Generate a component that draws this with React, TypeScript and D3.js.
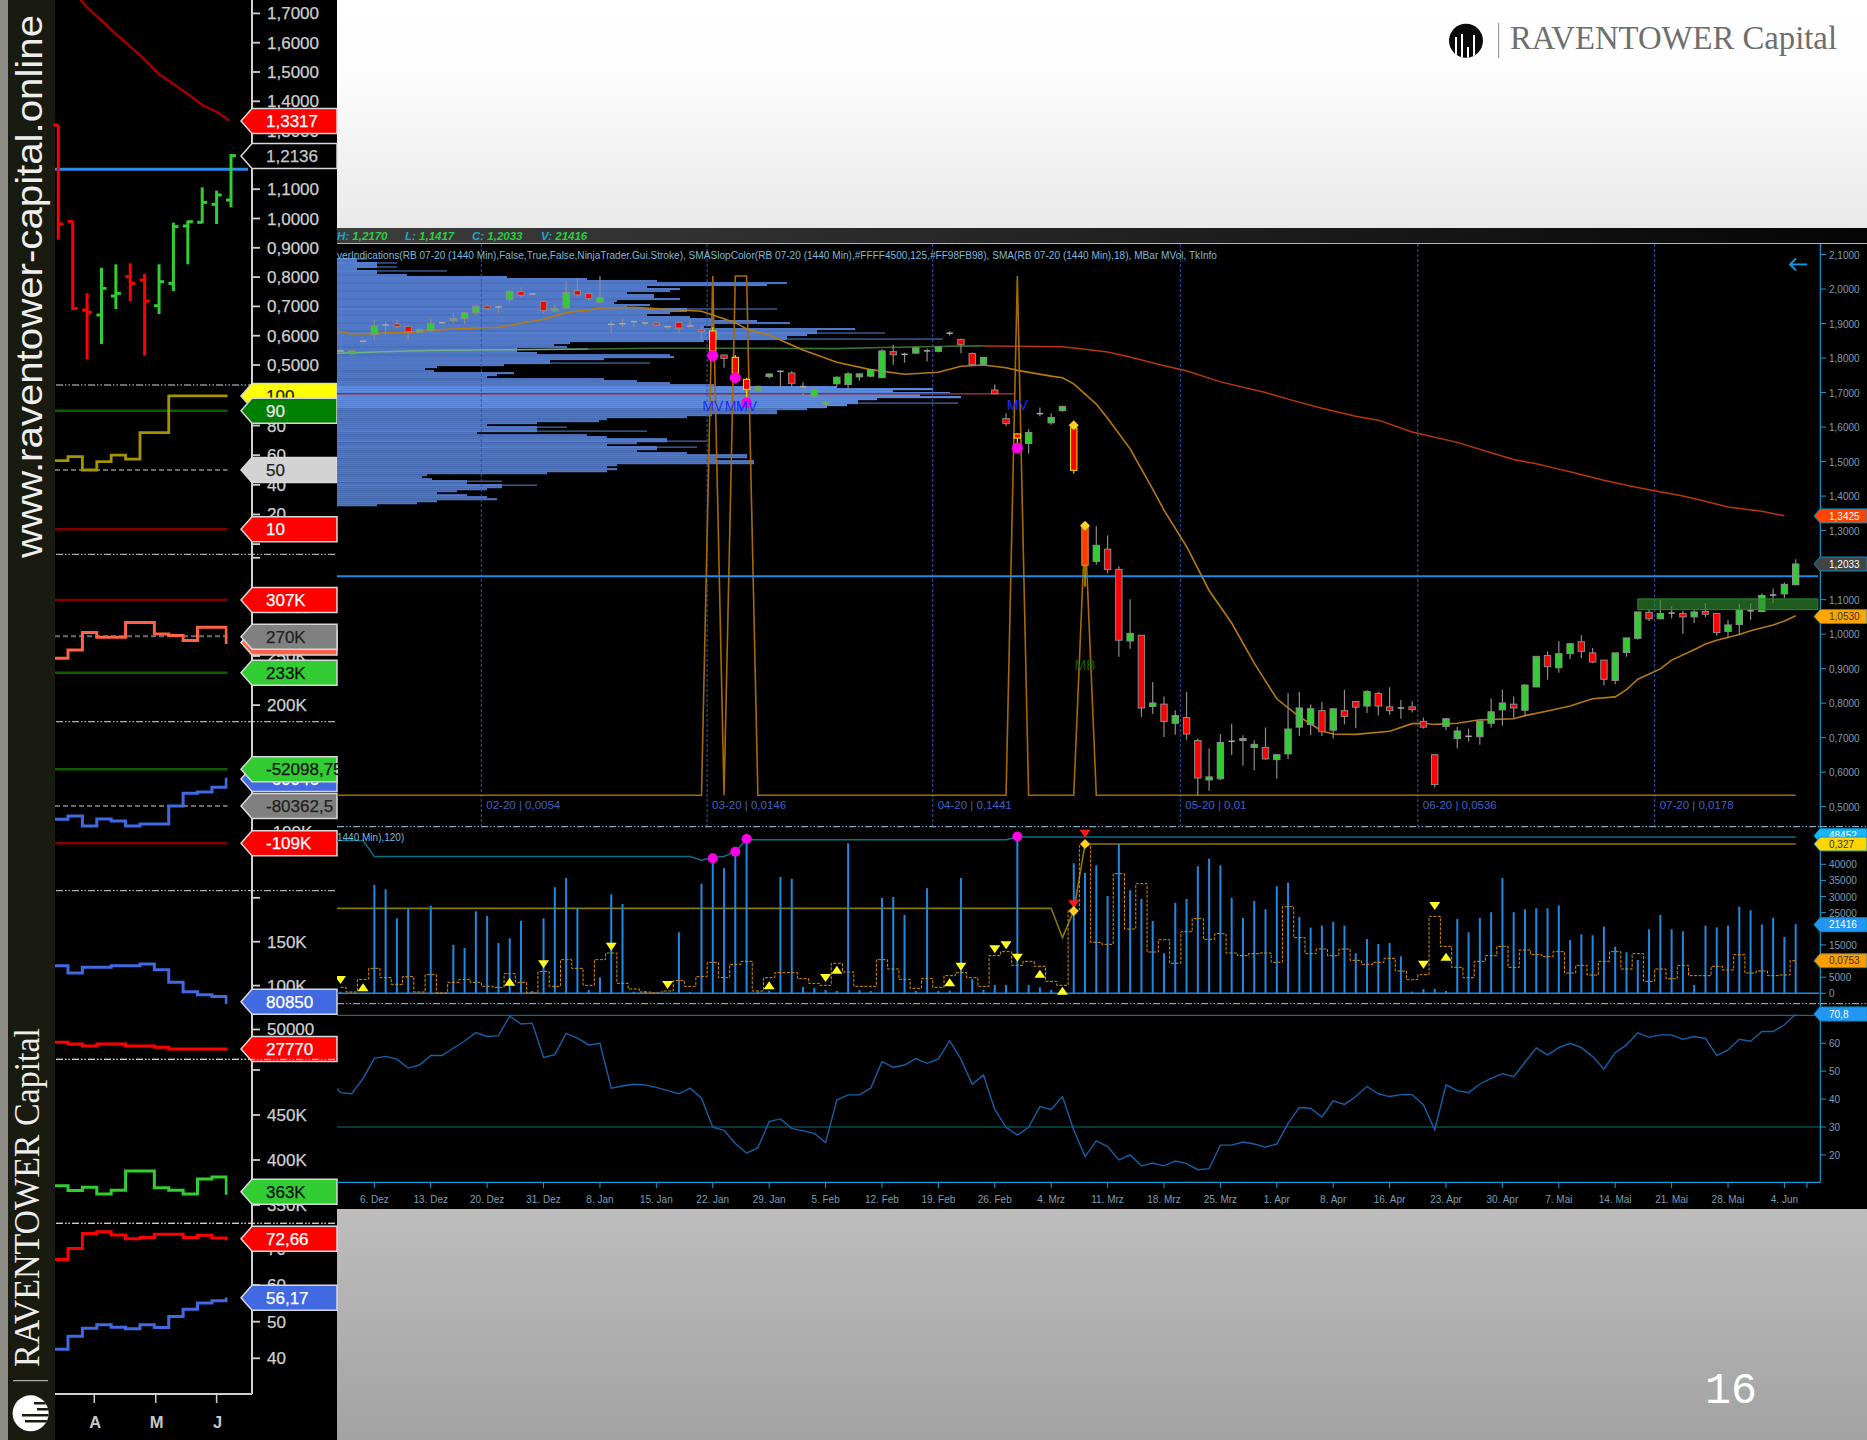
import React from "react";
import * as d3 from "d3";

// ---------- main daily chart data ----------
const opens = [1.8204,1.8127,1.8485,1.8687,1.8958,1.8987,1.8919,1.8745,1.8803,1.9026,1.9084,1.9142,1.9315,1.9509,1.948,1.9702,1.9924,1.9856,1.9644,1.9364,1.9451,1.9953,1.9866,1.9615,1.8977,1.8997,1.9055,1.9016,1.9016,1.891,1.9035,1.8929,1.8813,1.8784,1.8089,1.8021,1.7383,1.7065,1.7461,1.7615,1.7567,1.7171,1.6881,1.6659,1.7254,1.7232,1.7453,1.7475,1.7431,1.8185,1.8107,1.8141,1.8207,1.8196,1.8718,1.854,1.813,1.7819,1.7076,1.6244,1.5801,1.5524,1.6389,1.6122,1.6477,1.5978,1.3095,1.2108,1.2463,1.1875,0.9801,0.9967,0.7905,0.7971,0.7417,0.7583,0.6918,0.5775,0.5809,0.6896,0.6918,0.6718,0.6718,0.6363,0.653,0.7306,0.7383,0.7783,0.7217,0.7783,0.8049,0.7916,0.8282,0.7894,0.786,0.7894,0.7472,0.6507,0.7328,0.6973,0.704,0.7029,0.7417,0.7805,0.7971,0.7794,0.847,0.938,0.9025,0.9435,0.9779,0.9457,0.9247,0.8659,0.9468,0.9879,1.0633,1.0444,1.0611,1.06,1.05,1.0655,1.06,1.0078,1.0278,1.0677,1.0655,1.1132,1.1165,1.1431];
const highs = [1.8262,1.8214,1.8504,1.9103,1.9055,1.9103,1.8919,1.8842,1.918,1.9045,1.9296,1.9325,1.9538,1.9567,1.9509,1.9963,2.005,1.9876,1.9673,1.9538,2.0214,2.031,1.9895,2.0378,1.9055,1.9151,1.9074,1.9045,1.9026,1.8929,1.9084,1.9103,1.891,1.891,1.8089,1.8089,1.7432,1.7181,1.7557,1.7634,1.7625,1.7296,1.7123,1.6785,1.7475,1.7586,1.7542,1.7686,1.8252,1.8385,1.8152,1.8318,1.8274,1.8352,1.8773,1.8562,1.8163,1.803,1.7232,1.64,1.5823,1.5945,1.6566,1.64,1.6621,1.6056,1.3139,1.3128,1.2862,1.1964,1.101,0.9967,0.8614,0.8193,0.7794,0.8326,0.6973,0.6685,0.7106,0.7406,0.7073,0.6929,0.7295,0.6507,0.8293,0.8326,0.796,0.8038,0.7838,0.8393,0.8049,0.8371,0.8326,0.8459,0.8093,0.8049,0.7583,0.6507,0.755,0.7306,0.7262,0.7483,0.8138,0.8393,0.8193,0.8548,0.9357,0.9502,0.9801,0.9746,0.9967,0.9601,0.9247,0.9457,0.989,1.0644,1.0711,1.0988,1.081,1.0677,1.0711,1.0899,1.06,1.0411,1.0877,1.0899,1.1187,1.132,1.1498,1.217];
const lows = [1.8137,1.8089,1.8465,1.8523,1.8668,1.8861,1.8523,1.8726,1.8745,1.8987,1.9006,1.8987,1.9248,1.9393,1.9306,1.9634,1.9769,1.9827,1.9296,1.9335,1.9412,1.9779,1.9673,1.9596,1.8697,1.889,1.891,1.8948,1.8939,1.8842,1.8736,1.891,1.8504,1.8137,1.7722,1.7412,1.6785,1.7045,1.7412,1.7123,1.7171,1.691,1.6852,1.6591,1.7176,1.7065,1.7342,1.7442,1.742,1.7808,1.7864,1.8119,1.7897,1.8163,1.8651,1.8141,1.7786,1.7797,1.6943,1.6034,1.5479,1.5224,1.6311,1.6067,1.6444,1.4647,1.1376,1.2008,1.1764,0.9346,0.9579,0.7605,0.7683,0.7018,0.7084,0.694,0.5332,0.5465,0.5775,0.6496,0.6186,0.6053,0.6363,0.5809,0.6385,0.7051,0.7073,0.7051,0.6973,0.7384,0.7273,0.7716,0.7639,0.7661,0.755,0.7727,0.7262,0.5554,0.7217,0.6685,0.6885,0.6796,0.7295,0.735,0.755,0.7605,0.847,0.8681,0.8881,0.9269,0.9302,0.9158,0.8515,0.8548,0.9347,0.9846,1.0378,1.0433,1.0455,1.0012,1.0322,1.0489,0.9956,0.9879,0.999,1.0411,1.0655,1.0899,1.1043,1.1417];
const closes = [1.8204,1.8214,1.8485,1.8929,1.8958,1.891,1.8765,1.8823,1.9006,1.9026,1.9151,1.9315,1.9489,1.9431,1.948,1.9934,1.9818,1.9856,1.9373,1.9441,1.9895,1.9827,1.9721,1.975,1.8977,1.8997,1.9055,1.9016,1.8958,1.891,1.8871,1.8929,1.8765,1.8204,1.7992,1.7557,1.7094,1.7181,1.7538,1.7615,1.7267,1.7171,1.7094,1.6736,1.7442,1.7542,1.7542,1.7664,1.8207,1.8096,1.8107,1.8296,1.8207,1.8318,1.8718,1.8385,1.7808,1.8019,1.6965,1.61,1.5679,1.5845,1.6389,1.6278,1.6599,1.4747,1.1997,1.2574,1.1875,0.9823,1.0023,0.7861,0.8005,0.7472,0.7639,0.7106,0.5831,0.5864,0.6862,0.6896,0.6973,0.6807,0.6385,0.6507,0.725,0.7861,0.7838,0.7173,0.7838,0.7616,0.7883,0.8337,0.7916,0.7783,0.786,0.7816,0.7306,0.5643,0.755,0.7195,0.704,0.7483,0.7749,0.8005,0.786,0.8526,0.9357,0.9058,0.9435,0.9723,0.9502,0.9191,0.8692,0.9457,0.989,1.0644,1.0444,1.06,1.0611,1.05,1.0644,1.0577,1.0045,1.0267,1.0711,1.0677,1.1121,1.1132,1.1443,1.2033];

const smaIdx = [-0.3,1,3,6,9,12,14,16,18,20,22,23,26,29,32,33,35,36,38,41,44,47,50,53,55,57,59,60,63,64,65,67,68,70,72,73,75,77,79,81,83,85,87,88,90,93,95,96,97,99,101,104,105,107,109,111,113,114,115,117,118,120,121,122,124,125,127,128,129];
const smaVal = [1.8784,1.8697,1.8716,1.8745,1.8823,1.8871,1.889,1.9006,1.9122,1.9315,1.9393,1.9451,1.947,1.9412,1.9354,1.9248,1.9026,1.8842,1.8668,1.8233,1.7876,1.7664,1.7531,1.7586,1.7764,1.7797,1.7719,1.7642,1.7475,1.7431,1.7254,1.6666,1.6256,1.5368,1.4204,1.3594,1.254,1.1265,1.0322,0.9158,0.8127,0.7605,0.7195,0.7106,0.7095,0.7184,0.7406,0.7417,0.7384,0.7417,0.7517,0.755,0.7639,0.7772,0.7916,0.8127,0.8182,0.8393,0.8692,0.8992,0.9247,0.9546,0.9712,0.9823,0.999,1.01,1.0267,1.0378,1.053];

const slopeIdxA = [-0.3,6,9,15,22];
const slopeValA = [1.8137,1.8204,1.8224,1.8243,1.8263];
const slopeIdxB = [22,28,35,44,48,54,57];
const slopeValB = [1.8263,1.8282,1.8282,1.8274,1.8307,1.834,1.8352];
const slopeIdxC = [57,64,66,68,70,73,75,78,82,84,87,90,92,95,99,102,104,106,108,109,112,114,116,119,121,123,126,128];
const slopeValC = [1.8352,1.8329,1.8252,1.8174,1.803,1.7775,1.7631,1.7309,1.6999,1.681,1.6544,1.6311,1.62,1.5856,1.5557,1.5257,1.5058,1.4936,1.4781,1.4703,1.4459,1.4315,1.4182,1.4004,1.3849,1.3683,1.3561,1.3428];

const peakIdx = [-0.3,32,33,34,35,36,37,59,60,61,65,66,67,129];
const peakVal = [0.5332,0.5332,2.0378,0.5332,2.0378,2.0378,0.5332,0.5332,2.0378,0.5332,0.5332,1.3095,0.5332,0.5332];

const profileStart = 2.09;
const profileStep = 0.0058;
const profileVol = [30,20,60,40,60,20,110,40,70,170,250,320,450,430,310,343,333,290,317,317,343,280,277,313,290,440,350,333,310,353,377,420,453,377,367,518,480,548,470,450,606,367,233,217,230,180,180,200,333,337,267,213,313,167,100,88,97,177,160,150,267,300,333,377,500,596,556,613,583,624,540,521,621,510,490,470,440,440,375,350,270,262,200,150,230,200,310,140,250,270,330,370,300,270,360,320,300,350,410,410,380,417,417,280,270,280,270,210,90,85,95,165,130,200,165,150,120,100,130,150,160,100,80,40];

const periodPos = [12.48,32.5,52.5,74.45,95.5,116.5];
const periodLabels = ["02-20 | 0,0054","03-20 | 0,0146","04-20 | 0,1441","05-20 | 0,01","06-20 | 0,0536","07-20 | 0,0178"];

const volumes = [500,100,100,33600,32260,23265,26367,100,27194,100,14993,14062,25436,23989,15613,17061,22438,700,23265,32881,35776,26470,1000,4963,30700,27700,500,700,200,200,18900,400,34000,41880,38775,43900,47870,500,800,36090,35470,1960,1650,1030,720,46500,1030,720,29570,29880,24300,720,32570,720,830,35780,4450,1030,2590,2590,48600,2590,1860,1030,100,40330,37330,39700,30190,46220,31950,29260,22440,12410,28020,29260,39400,41770,39700,29570,23370,28640,26060,33190,34330,23680,20370,20990,22130,20990,12410,16850,15300,15610,11480,520,1340,1340,720,23060,18920,23370,25130,35780,25130,26060,26370,26370,27200,16540,18300,17990,20680,14480,12720,10340,19850,24300,19850,19230,2590,20990,20470,20990,26880,25750,21300,23370,17470,21416];
const barRatio = [25,11,49,82,54,34,57,11,63,8,40,49,40,28,25,66,40,8,72,28,108,82,31,108,128,37,20,11,8,14,45,28,57,100,54,94,103,14,54,69,69,51,37,31,97,71,28,28,108,80,49,22,51,25,60,69,54,28,120,132,91,103,88,43,31,257,450,160,154,366,200,336,131,168,97,192,231,169,186,128,120,126,128,100,267,174,126,140,120,140,106,94,100,112,74,48,63,238,148,85,54,103,120,148,85,137,123,117,132,68,91,62,103,132,80,126,43,80,51,91,60,60,88,77,123,68,74,60,62,105];
const maxVolIdx = [-0.3,2,3,31,32,33,34,35,36,59,60,129];
const maxVolVal = [47350,47350,42400,42400,41250,42100,42400,43950,47650,47650,48452,48452];
const oliveIdx = [-0.3,63,64,65,66,129];
const oliveVal = [262,262,174,254,455,455];
const rsi = [42.3,41.9,47.4,54.6,55.3,54.3,51.1,52.2,55.6,55.6,58.2,60.8,63.8,62.4,62.7,69.7,66.9,67.2,54.9,55.9,63.5,61.8,59.4,60,43.9,44.7,45.3,45.1,44.2,43,41.9,43.9,40.3,29.9,28.8,24.1,20.6,22.6,31.9,32.9,29.5,28.6,27.7,24.4,39.7,41.5,41.5,43.9,53.4,51.4,52.2,54.5,52.8,54.4,60.9,54.3,45.3,48.6,36.3,29.9,27.1,29.9,37.3,36.3,40.9,28.9,19.4,25,23,18.2,20,16.1,17.1,16.1,17.8,16.9,14.7,15.1,23.5,23.5,24.6,23.9,22.8,23.9,31.3,37,36.7,33.6,39.4,38.1,40.9,44.5,41.9,40.9,41.6,41.6,37.9,29,45.1,43,42.3,45.4,47.4,49.1,48,53.2,58.3,55.8,58.4,60,58.4,55.2,50.7,56.6,59.4,63.7,62.1,63,63,61.4,62.4,61.7,55.6,57.6,61.4,60.7,64.2,64.2,66.6,70.4];
const rsiLead = 43.8;

const triUpIdx = [2,15,38,44,54,62,64,98];
const triUpPos = [487,470,481,434,472,446,497,395];
const triDownIdx = [0,18,24,29,43,55,58,59,60,96,97];
const triDownPos = [465,418,365,480,459,425,373,361,398,419,243];
const redTriIdx = [65,66];
const redTriPos = [238,26];
const volDiamondIdx = [65,66];
const volDiamondPos = [258,57];
const volCircleIdx = [33,35,36,60];
const volCircleVal = [41880,43900,47870,48600];

const highlightIdx = [33,35,36,60,65];
const circleIdx = [33,35,36,60];
const circlePrice = [1.8069,1.7432,1.6707,1.5391];
const diamondIdx = [65,66];
const diamondPrice = [1.6056,1.3139];

const dateLabels = ["6. Dez","13. Dez","20. Dez","31. Dez","8. Jan","15. Jan","22. Jan","29. Jan","5. Feb","12. Feb","19. Feb","26. Feb","4. Mrz","11. Mrz","18. Mrz","25. Mrz","1. Apr","8. Apr","16. Apr","23. Apr","30. Apr","7. Mai","14. Mai","21. Mai","28. Mai","4. Jun"];
const dateIdx = dateLabels.map((_, k) => 3 + k * 5);
const priceTicks = [2.1,2.0,1.9,1.8,1.7,1.6,1.5,1.4,1.3,1.1,1.0,0.9,0.8,0.7,0.6,0.5];
const volTicks = [0,5000,10000,15000,25000,30000,35000,40000];
const rsiTicks = [20,30,40,50,60];
const legendText = "verIndications(RB 07-20 (1440 Min),False,True,False,NinjaTrader.Gui.Stroke), SMASlopColor(RB 07-20 (1440 Min),#FFFF4500,125,#FF98FB98), SMA(RB 07-20 (1440 Min),18), MBar MVol, TkInfo";

// ---------- left mini chart data ----------
const miniHigh = [1.3191,0.9905,0.7445,0.8321,0.8435,0.8469,0.8105,0.8435,0.9857,0.9928,1.1063,1.0949,1.2201];
const miniLow = [0.9288,0.6876,0.5204,0.5716,0.691,0.7183,0.5318,0.674,0.7525,0.8435,0.9834,0.9812,1.038];
const miniOpen = [1.3191,0.9905,0.6876,0.6706,0.7354,0.8014,0.79,0.7024,0.7786,0.9743,0.9869,1.0483,1.0631];
const miniClose = [0.9812,0.6933,0.6797,0.7616,0.7445,0.7786,0.7183,0.7843,0.9721,0.9891,1.0551,1.0801,1.2144];
const miniSmaIdx = [1,2,3,4,5,6,7,8,9,10,11,11.9];
const miniSma = [1.7798,1.7207,1.6752,1.6297,1.5864,1.5432,1.4931,1.459,1.4249,1.3873,1.3646,1.3338];
const miniStoch = [56.3,59,50,55.6,60.1,57.4,75.2,75.2,100,100,100,100,100];
const miniSalmon = [247.8,256.2,273.8,269.1,269.1,284,284,272.5,270.8,265.7,279.3,279.3,263.7];
const miniNet = [-90.6,-88,-95.7,-90.3,-91.8,-95.7,-94.1,-94.1,-80.3,-70.6,-69.5,-65.9,-59.8];
const miniComm = [122.7,114.3,120.8,120.8,122.7,122.7,124.6,118.1,103.7,93,89.6,87.7,80.85];
const miniSmall = [35.4,33.5,31.2,33.5,33.5,31.2,31.2,29.7,27.77,27.77,27.77,27.77,27.77];
const miniOi = [371.5,366,369.7,362.3,366.3,387.8,387.8,369.3,366.3,362.3,378.9,381.1,363];
const miniPctLong = [67,70,74.1,74.6,73.7,72.66,73,73.9,73.9,73,73.6,72.9,72.66];
const miniPctShort = [42.5,46,48.2,49.2,48.5,48.1,49.2,48.4,51.4,53.4,55.1,55.7,56.17];

const miniPriceTicks = [1.7,1.6,1.5,1.4,1.3,1.2,1.1,1.0,0.9,0.8,0.7,0.6,0.5];
const stochTicks = [100,80,60,40,20,0];
const oiTicks = [350,300,250,200];
const commTicks = [200,150,100,50];
const oi2Ticks = [500,450,400,350];
const pctTicks = [70,60,50,40];
const leftSeps = [385,554.3,721.7,890.7,1059.3,1223.3];
const monthIdx = [2.5,6.77,11];
const monthLabels = ["A","M","J"];

// ---------- scales ----------
const x = d3.scaleLinear().domain([0, 129]).range([340.5, 1795.7]);
const priceY = d3.scaleLinear().domain([0.5, 2.1]).range([806.7, 254.5]);
const volY = d3.scaleLinear().domain([0, 40000]).range([993.3, 864.3]);
const ratioY = d3.scaleLinear().domain([0, 455]).range([995.67, 844]);
const rsiY = d3.scaleLinear().domain([30, 70]).range([1127, 1015.3]);

const mx = d3.scaleLinear().domain([0, 12]).range([58.3, 231]);
const mPrice = d3.scaleLinear().domain([0.5, 1.7]).range([365, 13.4]);
const mStoch = d3.scaleLinear().domain([10, 90]).range([529.3, 410.7]);
const mOi = d3.scaleLinear().domain([233, 307]).range([672.7, 600]);
const mNet = d3.scaleLinear().domain([-109, -52.1]).range([843.3, 769.3]);
const mComm = d3.scaleLinear().domain([27.77, 150]).range([1049, 941.7]);
const mOi2 = d3.scaleLinear().domain([350, 450]).range([1205, 1115]);
const mPct = d3.scaleLinear().domain([40, 70]).range([1358.3, 1248.5]);

const priceLine = d3.line<[number, number]>().x((d) => x(d[0])).y((d) => priceY(d[1]));
const zip = (a: number[], b: number[]): [number, number][] => a.map((v, i) => [v, b[i]]);
const sans = "'Liberation Sans', Arial, sans-serif";
const serif = "'Liberation Serif', 'Times New Roman', serif";
const comma = (v: number, n = 4) => v.toFixed(n).replace(".", ",");

function miniStep(vals: number[], sc: d3.ScaleLinear<number, number>) {
  const pts: [number, number][] = [[-1, vals[0]], ...vals.map((v, k) => [k, v] as [number, number])];
  return d3.line<[number, number]>().x((d) => mx(d[0]) + 2.5).y((d) => sc(d[1])).curve(d3.curveStep)(pts) as string;
}

function Tag({ y, label, fill, color, side, stroke }: any) {
  const left = side === "left";
  const [x0, x1, xe, h, fs, tx] = left ? [241, 252, 337, 25, 17, 266] : [1814, 1820, 1867, 14, 10, 1829];
  const p = `M${x0},${y}L${x1},${y - h / 2}L${xe},${y - h / 2}L${xe},${y + h / 2}L${x1},${y + h / 2}Z`;
  return (
    <g>
      <path d={p} fill={fill} stroke={stroke || (left ? "#d8d8d8" : "#0d8cc0")} strokeWidth={left ? 1.5 : 1} />
      <text x={tx} y={y + fs * 0.36} fontSize={fs} fontFamily={sans} fill={color} stroke={left ? color : "none"} strokeWidth={left ? 0.25 : 0}>{label}</text>
    </g>
  );
}

function Tri({ cx, cy, up, fill }: any) {
  const w = 5.5, h = 4;
  const p = up
    ? `M${cx - w},${cy + h}L${cx + w},${cy + h}L${cx},${cy - h}Z`
    : `M${cx - w},${cy - h}L${cx + w},${cy - h}L${cx},${cy + h}Z`;
  return <path d={p} fill={fill} />;
}

function Diamond({ cx, cy }: any) {
  const r = 5;
  return <path d={`M${cx},${cy - r}L${cx + r},${cy}L${cx},${cy + r}L${cx - r},${cy}Z`} fill="#ffd21f" />;
}

function LeftLabel({ y, children }: any) {
  return <text x={267} y={y + 6} fontFamily={sans} fontSize={17} fill="#cfcfcf" stroke="#cfcfcf" strokeWidth={0.25}>{children}</text>;
}

export default function App() {
  const zy = (z: number) => 825 + z / 3;
  const bw = 6.4;
  const dash = "7 2 1.5 2 1.5 2";
  const rsiPts: [number, number][] = [[-0.3, rsiLead], ...rsi.map((v, i) => [i, v] as [number, number])];
  const tick = (y: number, key: any) => <line key={key} x1={252} x2={260} y1={y} y2={y} stroke="#d0d0d0" strokeWidth={1.8} />;
  return (
    <svg width={1867} height={1440} viewBox="0 0 1867 1440" style={{ position: "absolute", left: 0, top: 0, display: "block" }}>
      <defs>
        <linearGradient id="topBg" x1="0" y1="0" x2="0" y2="1">
          <stop offset="0" stopColor="#ffffff" />
          <stop offset="0.3" stopColor="#fdfdfd" />
          <stop offset="1" stopColor="#e9e9e9" />
        </linearGradient>
        <linearGradient id="botBg" x1="0" y1="0" x2="0" y2="1">
          <stop offset="0" stopColor="#bdbdbd" />
          <stop offset="1" stopColor="#a3a3a3" />
        </linearGradient>
        <linearGradient id="hdr" x1="0" y1="0" x2="1" y2="0">
          <stop offset="0" stopColor="#3d3d3d" />
          <stop offset="0.8" stopColor="#111111" />
          <stop offset="1" stopColor="#050505" />
        </linearGradient>
        <clipPath id="mainClip"><rect x={337} y={243} width={1483} height={966} /></clipPath>
        <clipPath id="miniClip"><rect x={55} y={0} width={172.5} height={1394} /></clipPath>
        <clipPath id="leftLogo"><circle cx={30.6} cy={1413.3} r={18} /></clipPath>
        <clipPath id="topLogo"><circle cx={1466} cy={40.7} r={17} /></clipPath>
      </defs>

      {/* slide background */}
      <rect x={0} y={0} width={1867} height={1440} fill="#000" />
      <rect x={337} y={0} width={1530} height={228} fill="url(#topBg)" />
      <rect x={337} y={1209} width={1530} height={231} fill="url(#botBg)" />
      <rect x={0} y={0} width={8} height={1440} fill="#8e8e87" />
      <rect x={8} y={0} width={47} height={1440} fill="#1a1b10" />

      {/* sidebar text */}
      <text transform="translate(42,558) rotate(-90)" fontFamily={sans} fontSize={37} fill="#eeeeee" textLength={543} lengthAdjust="spacingAndGlyphs">www.raventower-capital.online</text>
      <text transform="translate(39.3,1367) rotate(-90)" fontFamily={serif} fontSize={36} fill="#eeeeee" textLength={339} lengthAdjust="spacingAndGlyphs">RAVENTOWER Capital</text>
      <line x1={13} x2={48} y1={1380.7} y2={1380.7} stroke="#cfcfcf" strokeWidth={1} />
      <circle cx={30.6} cy={1413.3} r={18} fill="#ffffff" />
      <g clipPath="url(#leftLogo)" fill="#1a1b10">
        <rect x={34} y={1402} width={16} height={2.5} />
        <rect x={37} y={1408} width={14} height={2.5} />
        <rect x={22} y={1414} width={30} height={2.5} />
        <rect x={25} y={1420} width={30} height={2.5} />
      </g>

      {/* top-right logo */}
      <circle cx={1466} cy={40.7} r={17} fill="#0a0a0a" />
      <g clipPath="url(#topLogo)" fill="#ffffff">
        <rect x={1455} y={37} width={2} height={24} />
        <rect x={1461} y={34} width={2} height={27} />
        <rect x={1467} y={47} width={2} height={14} />
        <rect x={1473} y={35} width={2} height={26} />
      </g>
      <line x1={1498.7} x2={1498.7} y1={23} y2={58} stroke="#8a8a8a" strokeWidth={1} />
      <text x={1510} y={49} fontFamily={serif} fontSize={33} fill="#6e6e6e" textLength={327} lengthAdjust="spacingAndGlyphs">RAVENTOWER Capital</text>

      {/* page number */}
      <text x={1705} y={1402.7} fontFamily="'Liberation Mono', monospace" fontSize={44} fill="#ffffff" textLength={52} lengthAdjust="spacingAndGlyphs">16</text>

      {/* ========== LEFT MINI CHART ========== */}
      {leftSeps.map((y) => (
        <line key={y} x1={56} x2={337} y1={y} y2={y} stroke="#d8d8d8" strokeWidth={1} strokeDasharray={dash} />
      ))}
      <line x1={252} x2={252} y1={0} y2={1394} stroke="#d0d0d0" strokeWidth={2} />
      <line x1={55} x2={252} y1={1394} y2={1394} stroke="#d0d0d0" strokeWidth={2} />
      {monthIdx.map((k, i) => (
        <g key={i}>
          <line x1={mx(k)} x2={mx(k)} y1={1394} y2={1403} stroke="#d0d0d0" strokeWidth={1.5} />
          <text x={mx(k) + 1} y={1428} textAnchor="middle" fontFamily={sans} fontSize={16.5} fontWeight="bold" fill="#c8c8c8">{monthLabels[i]}</text>
        </g>
      ))}
      {/* left axis ticks */}
      {miniPriceTicks.map((v) => (
        <g key={v}>
          {tick(mPrice(v), "t")}
          <LeftLabel y={mPrice(v)}>{comma(v)}</LeftLabel>
        </g>
      ))}
      {stochTicks.map((v) => (
        <g key={v}>
          {tick(mStoch(v), "t")}
          {v > 0 && <LeftLabel y={mStoch(v)}>{v}</LeftLabel>}
        </g>
      ))}
      {oiTicks.map((v) => (
        <g key={v}>
          {tick(mOi(v), "t")}
          {v < 350 && <LeftLabel y={mOi(v)}>{v}K</LeftLabel>}
        </g>
      ))}
      <LeftLabel y={mNet(-100)}>-100K</LeftLabel>
      {commTicks.map((v) => (
        <g key={v}>
          {tick(mComm(v), "t")}
          {v < 200 && <LeftLabel y={mComm(v)}>{v === 50 ? "50000" : `${v}K`}</LeftLabel>}
        </g>
      ))}
      {oi2Ticks.map((v) => (
        <g key={v}>
          {tick(mOi2(v), "t")}
          {v < 500 && <LeftLabel y={mOi2(v)}>{v}K</LeftLabel>}
        </g>
      ))}
      {pctTicks.map((v) => (
        <g key={v}>
          {tick(mPct(v), "t")}
          <LeftLabel y={mPct(v)}>{v}</LeftLabel>
        </g>
      ))}

      {/* mini OHLC */}
      <path
        d={d3.line<[number, number]>().x((d) => mx(d[0])).y((d) => mPrice(d[1]))(zip(miniSmaIdx, miniSma)) as string}
        fill="none" stroke="#a50000" strokeWidth={2.4}
      />
      <line x1={55} x2={248} y1={mPrice(1.1677)} y2={mPrice(1.1677)} stroke="#2b8be8" strokeWidth={3} />
      {miniHigh.map((h, k) => {
        const c = miniClose[k] >= miniOpen[k] ? "#32cd32" : "#ff0000";
        return (
          <g key={k} stroke={c} strokeWidth={3}>
            <line x1={mx(k)} x2={mx(k)} y1={mPrice(h)} y2={mPrice(miniLow[k])} />
            <line x1={mx(k) - 5} x2={mx(k)} y1={mPrice(miniOpen[k])} y2={mPrice(miniOpen[k])} />
            <line x1={mx(k)} x2={mx(k) + 5} y1={mPrice(miniClose[k])} y2={mPrice(miniClose[k])} />
          </g>
        );
      })}
      <g clipPath="url(#miniClip)" fill="none">
        {/* stochastic panel */}
        <line x1={55} x2={228} y1={mStoch(90)} y2={mStoch(90)} stroke="#0f5c00" strokeWidth={2.6} />
        <line x1={55} x2={228} y1={mStoch(50)} y2={mStoch(50)} stroke="#6e6e6e" strokeWidth={2} strokeDasharray="5 3" />
        <line x1={55} x2={228} y1={mStoch(10)} y2={mStoch(10)} stroke="#7f0000" strokeWidth={2.6} />
        <path d={miniStep(miniStoch, mStoch)} stroke="#a39400" strokeWidth={2.8} />
        {/* open interest */}
        <line x1={55} x2={228} y1={mOi(307)} y2={mOi(307)} stroke="#7f0000" strokeWidth={2.6} />
        <line x1={55} x2={228} y1={mOi(270)} y2={mOi(270)} stroke="#6e6e6e" strokeWidth={2} strokeDasharray="5 3" />
        <line x1={55} x2={228} y1={mOi(233)} y2={mOi(233)} stroke="#0f5c00" strokeWidth={2.6} />
        <path d={miniStep(miniSalmon, mOi)} stroke="#ff6347" strokeWidth={3} />
        {/* net */}
        <line x1={55} x2={228} y1={mNet(-52.1)} y2={mNet(-52.1)} stroke="#0f5c00" strokeWidth={2.6} />
        <line x1={55} x2={228} y1={mNet(-80.4)} y2={mNet(-80.4)} stroke="#6e6e6e" strokeWidth={2} strokeDasharray="5 3" />
        <line x1={55} x2={228} y1={mNet(-109)} y2={mNet(-109)} stroke="#7f0000" strokeWidth={2.6} />
        <path d={miniStep(miniNet, mNet)} stroke="#4169e1" strokeWidth={3} />
        {/* commercials */}
        <path d={miniStep(miniComm, mComm)} stroke="#4169e1" strokeWidth={3} />
        <path d={miniStep(miniSmall, mComm)} stroke="#ff0000" strokeWidth={3} />
        <path d={miniStep(miniOi, mOi2)} stroke="#32cd32" strokeWidth={3} />
        <path d={miniStep(miniPctLong, mPct)} stroke="#ff0000" strokeWidth={3} />
        <path d={miniStep(miniPctShort, mPct)} stroke="#4169e1" strokeWidth={3} />
      </g>

      {/* left tags */}
      <Tag side="left" y={121} label="1,3317" fill="#ff0000" color="#ffffff" />
      <Tag side="left" y={156} label="1,2136" fill="#000000" color="#c8c8c8" />
      <Tag side="left" y={mStoch(100)} label="100" fill="#ffff00" color="#222" />
      <Tag side="left" y={mStoch(90)} label="90" fill="#008000" color="#e8e8e8" />
      <Tag side="left" y={mStoch(50)} label="50" fill="#d3d3d3" color="#222" />
      <Tag side="left" y={mStoch(10)} label="10" fill="#ff0000" color="#ffffff" />
      <Tag side="left" y={600} label="307K" fill="#ff0000" color="#ffffff" />
      <Tag side="left" y={642.5} label="264K" fill="#ff6347" color="#ffffff" />
      <Tag side="left" y={636.7} label="270K" fill="#808080" color="#222" />
      <Tag side="left" y={672.7} label="233K" fill="#32cd32" color="#111" />
      <Tag side="left" y={779} label="-60046" fill="#4169e1" color="#ffffff" />
      <Tag side="left" y={769.3} label="-52098,75" fill="#32cd32" color="#111" />
      <Tag side="left" y={806} label="-80362,5" fill="#808080" color="#222" />
      <Tag side="left" y={843.3} label="-109K" fill="#ff0000" color="#ffffff" />
      <Tag side="left" y={1001.7} label="80850" fill="#4169e1" color="#ffffff" />
      <Tag side="left" y={1049} label="27770" fill="#ff0000" color="#ffffff" />
      <Tag side="left" y={1191.7} label="363K" fill="#32cd32" color="#111" />
      <Tag side="left" y={1238.7} label="72,66" fill="#ff0000" color="#ffffff" />
      <Tag side="left" y={1297.7} label="56,17" fill="#4169e1" color="#ffffff" />
      <line x1={56} x2={337} y1={1059.3} y2={1059.3} stroke="#d8d8d8" strokeWidth={1} strokeDasharray={dash} />
      <line x1={56} x2={337} y1={1223.3} y2={1223.3} stroke="#d8d8d8" strokeWidth={1} strokeDasharray={dash} />

      {/* ========== MAIN CHART ========== */}
      <rect x={337} y={228} width={1530} height={15} fill="url(#hdr)" />
      <line x1={337} x2={1867} y1={243.5} y2={243.5} stroke="#b5b5b5" strokeWidth={1} />
      <g fontFamily={sans} fontSize={11.5} fontStyle="italic" fontWeight="bold">
        <text x={337} y={240} fill="#2ecc40"><tspan fill="#1fa5c8">H:</tspan> 1,2170</text>
        <text x={405} y={240} fill="#2ecc40"><tspan fill="#1fa5c8">L:</tspan> 1,1417</text>
        <text x={472} y={240} fill="#2ecc40"><tspan fill="#1fa5c8">C:</tspan> 1,2033</text>
        <text x={541} y={240} fill="#2ecc40"><tspan fill="#1fa5c8">V:</tspan> 21416</text>
      </g>

      <g clipPath="url(#mainClip)">
        {/* volume profile */}
        {profileVol.map((v, k) => {
          const p = profileStart - k * profileStep;
          const bright = k >= 64 && k <= 74;
          const prev = profileVol[k - 1] ?? 0;
          const next = profileVol[k + 1] ?? 0;
          const spike = v > prev * 1.12 && v > next * 1.12;
          return (
            <g key={k}>
              <rect x={337} y={priceY(p)} width={spike ? Math.max(prev, next) : v} height={2.1} fill={bright ? "#5c8ce4" : k % 4 === 0 ? "#4a72c0" : "#5179c8"} />
              {spike && <rect x={337} y={priceY(p) + 0.5} width={v} height={1} fill="#5a84d4" />}
            </g>
          );
        })}
        {/* period separators */}
        {periodPos.map((p, i) => (
          <g key={i}>
            <line x1={x(p)} x2={x(p)} y1={244} y2={826} stroke="#2f55b8" strokeWidth={1} strokeDasharray="3 2" />
            <text x={x(p) + 5} y={809} fontFamily={sans} fontSize={11.5} fill="#3f63c4">{periodLabels[i]}</text>
          </g>
        ))}
        {/* red POC line */}
        <line x1={337} x2={1015} y1={priceY(1.6962)} y2={priceY(1.6962)} stroke="#9a2a3a" strokeWidth={1.5} />
        {/* long SMA with slope colour */}
        <path d={priceLine(zip(slopeIdxA, slopeValA)) as string} fill="none" stroke="#6fb08c" strokeWidth={1.5} />
        <path d={priceLine(zip(slopeIdxB, slopeValB)) as string} fill="none" stroke="#3e6e35" strokeWidth={1.6} />
        <path d={priceLine(zip(slopeIdxC, slopeValC)) as string} fill="none" stroke="#b8370e" strokeWidth={1.5} />
        {/* MBar peak line */}
        <path d={priceLine(zip(peakIdx, peakVal)) as string} fill="none" stroke="#a86a00" strokeWidth={1.6} />
        {/* SMA 18 */}
        <path d={priceLine(zip(smaIdx, smaVal)) as string} fill="none" stroke="#b57a10" strokeWidth={1.6} />
        {/* horizontal level */}
        <line x1={337} x2={1818} y1={priceY(1.1677)} y2={priceY(1.1677)} stroke="#1e88e5" strokeWidth={2} />

        {/* candles */}
        {opens.map((o, i) => {
          const c = closes[i];
          const cx = x(i);
          const doji = o === c;
          const up = c > o;
          const hl = highlightIdx.includes(i);
          const orange = i === 66;
          const topY = priceY(Math.max(o, c));
          const botY = priceY(Math.min(o, c));
          return (
            <g key={i}>
              <line x1={cx} x2={cx} y1={priceY(highs[i])} y2={priceY(lows[i])} stroke={hl ? "#e8d000" : orange ? "#e8c000" : "#8c8c8c"} strokeWidth={1.2} />
              {doji ? (
                <line x1={cx - bw / 2} x2={cx + bw / 2} y1={topY} y2={topY} stroke="#a8a8a8" strokeWidth={1.5} />
              ) : (
                <rect x={cx - bw / 2} y={topY} width={bw} height={Math.max(botY - topY, 1.5)}
                  fill={up ? "#32cd32" : orange ? "#ff3a00" : "#ff0000"}
                  stroke={orange ? "#e8901a" : hl ? "#f0e000" : "#8c8c8c"} strokeWidth={1} />
              )}
            </g>
          );
        })}
        {circleIdx.map((k, i) => (
          <circle key={k} cx={x(k)} cy={priceY(circlePrice[i])} r={5.5} fill="#ff00e6" />
        ))}
        {diamondIdx.map((k, i) => (
          <Diamond key={k} cx={x(k)} cy={priceY(diamondPrice[i])} />
        ))}
        <g fontFamily={sans} fontSize={14} textAnchor="middle" fill="#1a2eff">
          <text x={x(33)} y={411}>MV</text>
          <text x={x(35)} y={411}>MV</text>
          <text x={x(36)} y={411}>MV</text>
          <text x={x(60)} y={410}>MV</text>
        </g>
        <text x={x(66)} y={670} fontFamily={sans} fontSize={14} textAnchor="middle" fill="#0a5f0a">MB</text>
        <rect x={1637.8} y={priceY(1.1021)} width={180} height={priceY(1.0711) - priceY(1.1021)} fill="#2f8a2f" fillOpacity={0.65} stroke="#2a8a2a" strokeWidth={1} />

        {/* arrow */}
        <path d="M1807,264.4H1790M1796,258.5L1790,264.4L1796,270.3" fill="none" stroke="#00a2e8" strokeWidth={1.8} />

        {/* volume panel */}
        <line x1={337} x2={1820} y1={826.7} y2={826.7} stroke="#9ccfee" strokeWidth={1} strokeDasharray={dash} />
        <line x1={337} x2={1820} y1={1003.7} y2={1003.7} stroke="#9ccfee" strokeWidth={1} strokeDasharray={dash} />
        <line x1={337} x2={1819} y1={volY(0)} y2={volY(0)} stroke="#1e88e5" strokeWidth={1.5} />
        <path d={d3.line<[number, number]>().x((d) => x(d[0])).y((d) => volY(d[1]))(zip(maxVolIdx, maxVolVal)) as string} fill="none" stroke="#0e6f87" strokeWidth={1.5} />
        <path d={d3.line<[number, number]>().x((d) => x(d[0])).y((d) => ratioY(d[1]))(zip(oliveIdx, oliveVal)) as string} fill="none" stroke="#8a7a00" strokeWidth={1.6} />
        {volumes.map((v, i) => (
          <rect key={i} x={x(i) - 1} y={volY(v)} width={2} height={volY(0) - volY(v)} fill="#1e88e5" />
        ))}
        <path d={d3.line<number>().x((_, i) => x(i)).y((d) => ratioY(d)).curve(d3.curveStep)(barRatio) as string} fill="none" stroke="#e08c00" strokeWidth={1} strokeDasharray="3 1.5" />
        {triUpIdx.map((k, i) => <Tri key={k} cx={x(k)} cy={zy(triUpPos[i])} up fill="#ffff1e" />)}
        {triDownIdx.map((k, i) => <Tri key={k} cx={x(k)} cy={zy(triDownPos[i])} fill="#ffff1e" />)}
        {redTriIdx.map((k, i) => <Tri key={k} cx={x(k)} cy={zy(redTriPos[i])} fill="#ff1a1a" />)}
        {volDiamondIdx.map((k, i) => <Diamond key={k} cx={x(k)} cy={zy(volDiamondPos[i])} />)}
        {volCircleIdx.map((k, i) => <circle key={k} cx={x(k)} cy={volY(volCircleVal[i])} r={5} fill="#ff00e6" />)}
        <text x={337} y={841} fontFamily={sans} fontSize={10} fill="#7db8dc">1440 Min),120)</text>

        {/* RSI panel */}
        <line x1={337} x2={1820} y1={rsiY(70)} y2={rsiY(70)} stroke="#0f6e78" strokeWidth={1.2} />
        <line x1={337} x2={1820} y1={rsiY(30)} y2={rsiY(30)} stroke="#0f6e78" strokeWidth={1.2} />
        <path d={d3.line<[number, number]>().x((d) => x(d[0])).y((d) => rsiY(d[1]))(rsiPts) as string} fill="none" stroke="#1560a8" strokeWidth={1.4} />
      </g>

      <line x1={1820} x2={1867} y1={826.7} y2={826.7} stroke="#9ccfee" strokeWidth={1} strokeDasharray={dash} />
      <line x1={1820} x2={1867} y1={1003.7} y2={1003.7} stroke="#9ccfee" strokeWidth={1} strokeDasharray={dash} />
      <text x={337} y={259} fontFamily={sans} fontSize={10} fill="#7db8dc" textLength={880} lengthAdjust="spacingAndGlyphs">{legendText}</text>

      {/* main right axis */}
      <line x1={1820.3} x2={1820.3} y1={244} y2={1182.3} stroke="#0f9fd8" strokeWidth={1.2} />
      <line x1={337} x2={1820.3} y1={1182.3} y2={1182.3} stroke="#0f9fd8" strokeWidth={1.2} />
      {dateIdx.map((k, i) => (
        <g key={k}>
          <line x1={x(k)} x2={x(k)} y1={1182.3} y2={1188} stroke="#0f9fd8" strokeWidth={1} />
          <text x={x(k)} y={1203} textAnchor="middle" fontFamily={sans} fontSize={10} fill="#7e9db5">{dateLabels[i]}</text>
        </g>
      ))}
      <line x1={x(130)} x2={x(130)} y1={1182.3} y2={1188} stroke="#0f9fd8" strokeWidth={1} />
      {priceTicks.map((v) => (
        <g key={v}>
          <line x1={1820.3} x2={1826} y1={priceY(v)} y2={priceY(v)} stroke="#0f9fd8" strokeWidth={1} />
          <text x={1829} y={priceY(v) + 4} fontFamily={sans} fontSize={10} fill="#7e9db5">{comma(v)}</text>
        </g>
      ))}
      {volTicks.map((v) => (
        <g key={v}>
          <line x1={1820.3} x2={1826} y1={volY(v)} y2={volY(v)} stroke="#0f9fd8" strokeWidth={1} />
          <text x={1829} y={volY(v) + 4} fontFamily={sans} fontSize={10} fill="#7e9db5">{v}</text>
        </g>
      ))}
      {rsiTicks.map((v) => (
        <g key={v}>
          <line x1={1820.3} x2={1826} y1={rsiY(v)} y2={rsiY(v)} stroke="#0f9fd8" strokeWidth={1} />
          <text x={1829} y={rsiY(v) + 4} fontFamily={sans} fontSize={10} fill="#7e9db5">{v}</text>
        </g>
      ))}
      <Tag side="right" y={515.9} label="1,3425" fill="#ff4500" color="#ffffff" />
      <Tag side="right" y={564} label="1,2033" fill="#444444" color="#ffffff" />
      <Tag side="right" y={616.5} label="1,0530" fill="#ffa500" color="#333" />
      <Tag side="right" y={835.7} label="48452" fill="#19b5f5" color="#ffffff" />
      <Tag side="right" y={844} label="0,327" fill="#ffd400" color="#333" />
      <Tag side="right" y={924.7} label="21416" fill="#2196f3" color="#ffffff" />
      <Tag side="right" y={960.7} label="0,0753" fill="#ff9c00" color="#333" />
      <Tag side="right" y={1014} label="70,8" fill="#2196f3" color="#ffffff" />
    </svg>
  );
}
